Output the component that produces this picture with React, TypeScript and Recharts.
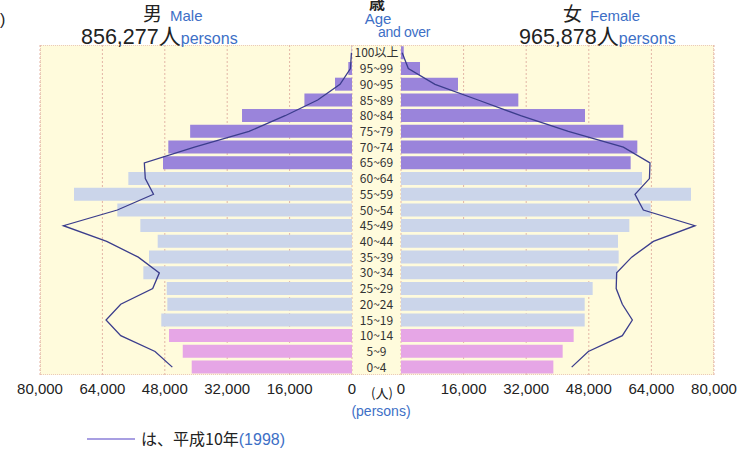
import { ComposedChart, Bar, Line, XAxis, YAxis, CartesianGrid, Cell } from "recharts";

const ages = ["100以上", "95~99", "90~95", "85~89", "80~84", "75~79", "70~74", "65~69", "60~64", "55~59", "50~54",
  "45~49", "40~44", "35~39", "30~34", "25~29", "20~24", "15~19", "10~14", "5~9", "0~4"];
const male = [100, 950, 4360, 12200, 28200, 41500, 47100, 48460, 57350, 71280, 60170,
  54270, 49820, 52050, 53500, 47500, 47350, 48900, 46920, 43400, 41100];
const male1998 = [150, 400, 3070, 8800, 17150, 26400, 40400, 53250, 53000, 50900, 60170,
  74000, 62900, 54800, 49400, 51100, 59300, 63070, 59300, 50500, 46070];
const female = [700, 4860, 14570, 29990, 47030, 56830, 60400, 58700, 61600, 74120, 63810,
  58360, 55460, 55630, 55300, 48990, 46950, 46950, 44130, 41320, 38940];
const female1998 = [300, 1870, 8690, 19700, 30600, 42770, 56830, 63640, 63500, 59810, 61940,
  75150, 64500, 58960, 55120, 55000, 56570, 59130, 56570, 47880, 43620];
const ticks = [0, 16000, 32000, 48000, 64000, 80000];

const rows = ages.map((age, i) => ({ age, male: male[i], m98: male1998[i], female: female[i], f98: female1998[i] }));

const OLD = "#9a84db";
const MID = "#cbd5ea";
const YOUNG = "#e6a6e6";
const colorFor = (i: number) => (i < 8 ? OLD : i < 18 ? MID : YOUNG);

const BLUE = "#3d6fc6";
const LINE = "#3b3d8c";
const LATIN = "'Liberation Sans', Arial, sans-serif";
const CJK = "'Noto Sans CJK JP', 'Liberation Sans', sans-serif";
const fmt = (v: number) => v.toLocaleString("en-US");
const tickStyle = { fontSize: 15, fill: "#222", fontFamily: LATIN };

const AgeTick = (p: any) => (
  <text x={376.5} y={p.y} dy={4.5} textAnchor="middle" fontSize={12} fill="#333" fontFamily={CJK}>
    {p.payload.value}
  </text>
);

export default function App() {
  return (
    <div style={{ position: "fixed", left: 0, top: 0, width: 749, height: 450, background: "#fff", overflow: "hidden" }}>
      <div style={{ position: "absolute", left: 40, top: 45, width: 674, height: 330, background: "#fffbdc",
        boxSizing: "border-box", border: "1px dotted #ebc9bb" }} />
      <div style={{ position: "absolute", left: 0, top: 0 }}>
        <ComposedChart width={401} height={450} layout="vertical" data={rows} barCategoryGap="8%"
          margin={{ top: 45, bottom: 45, left: 40, right: 0 }}>
          <CartesianGrid horizontal={false} stroke="#e3b5a5" strokeDasharray="2 2" />
          <XAxis type="number" domain={[0, 80000]} ticks={ticks} reversed interval={0} axisLine={false}
            tickLine={false} tick={tickStyle} tickFormatter={fmt} height={30} />
          <YAxis type="category" dataKey="age" orientation="right" width={49} axisLine={false} tickLine={false}
            interval={0} tick={AgeTick} />
          <Bar dataKey="male" isAnimationActive={false}>
            {rows.map((r, i) => <Cell key={r.age} fill={colorFor(i)} />)}
          </Bar>
          <Line dataKey="m98" type="linear" stroke={LINE} strokeWidth={1.3} dot={false} isAnimationActive={false} />
        </ComposedChart>
      </div>
      <div style={{ position: "absolute", left: 361, top: 0 }}>
        <ComposedChart width={388} height={450} layout="vertical" data={rows} barCategoryGap="8%"
          margin={{ top: 45, bottom: 45, left: 40, right: 35 }}>
          <CartesianGrid horizontal={false} stroke="#e3b5a5" strokeDasharray="2 2" />
          <XAxis type="number" domain={[0, 80000]} ticks={ticks} interval={0} axisLine={false}
            tickLine={false} tick={tickStyle} tickFormatter={fmt} height={30} />
          <YAxis type="category" dataKey="age" hide />
          <Bar dataKey="female" isAnimationActive={false}>
            {rows.map((r, i) => <Cell key={r.age} fill={colorFor(i)} />)}
          </Bar>
          <Line dataKey="f98" type="linear" stroke={LINE} strokeWidth={1.3} dot={false} isAnimationActive={false} />
        </ComposedChart>
      </div>
      <svg width={749} height={450} style={{ position: "absolute", left: 0, top: 0, pointerEvents: "none" }}>
        <text x={0} y={25} fontSize={16} fontFamily={LATIN} fill="#222">)</text>
        <text x={143} y={21} fontSize={19} fontFamily={CJK} fill="#222">男</text>
        <text x={170} y={21} fontSize={15} fontFamily={LATIN} fill={BLUE}>Male</text>
        <text x={81} y={44} fill="#222">
          <tspan fontSize={21.5} fontFamily={LATIN}>856,277</tspan>
          <tspan fontSize={22} fontFamily={CJK}>人</tspan>
          <tspan fontSize={16} fontFamily={LATIN} fill={BLUE}>persons</tspan>
        </text>
        <text x={563} y={21} fontSize={19} fontFamily={CJK} fill="#222">女</text>
        <text x={590} y={21} fontSize={15} fontFamily={LATIN} fill={BLUE}>Female</text>
        <text x={519} y={44} fill="#222">
          <tspan fontSize={21.5} fontFamily={LATIN}>965,878</tspan>
          <tspan fontSize={22} fontFamily={CJK}>人</tspan>
          <tspan fontSize={16} fontFamily={LATIN} fill={BLUE}>persons</tspan>
        </text>
        <text x={377} y={9} textAnchor="middle" fontSize={16} fontWeight="bold" fontFamily={CJK} fill="#222">歳</text>
        <text x={378} y={24} textAnchor="middle" fontSize={15} fontFamily={LATIN} fill={BLUE}>Age</text>
        <text x={378} y={37} fontSize={14} fontFamily={LATIN} fill={BLUE} letterSpacing={-0.3}>and over</text>
        <text x={382} y={398} textAnchor="middle" fontSize={13} fontFamily={CJK} fill="#222">(人)</text>
        <text x={381} y={416} textAnchor="middle" fontSize={14} fontFamily={LATIN} fill={BLUE}>(persons)</text>
        <line x1={87} x2={135} y1={439} y2={439} stroke="#8b7fd8" strokeWidth={1.5} />
        <text x={141} y={445} fontSize={16} fontFamily={CJK} fill="#222">
          は、平成10年<tspan fontFamily={LATIN} fill={BLUE}>(1998)</tspan>
        </text>
      </svg>
    </div>
  );
}
